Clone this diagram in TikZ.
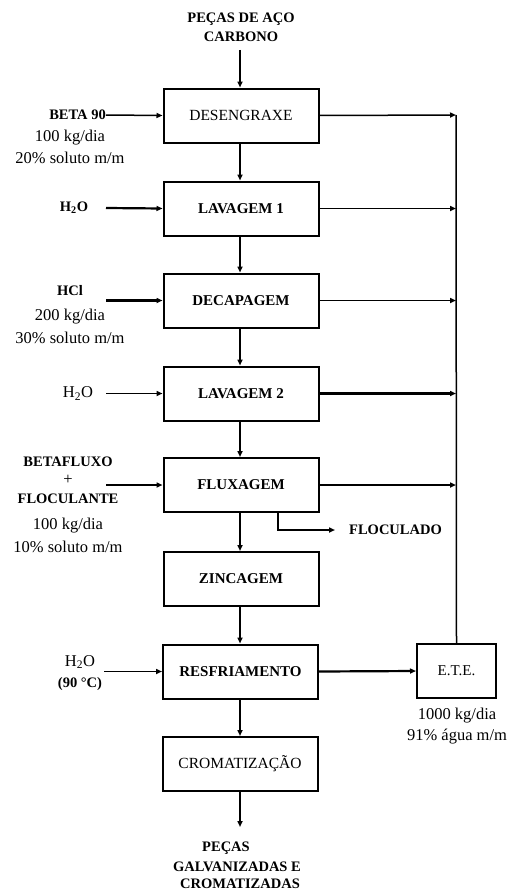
\documentclass[tikz,border=0pt]{standalone}
\usepackage{fontspec}
\setmainfont{Liberation Serif}
\usetikzlibrary{arrows.meta}
\begin{document}
\begin{tikzpicture}[x=1pt,y=-1pt,
  box/.style={draw,line width=2pt,fill=white,minimum width=155pt,minimum height=54pt,inner sep=0pt},
  txt/.style={font=\fontsize{16.5}{18}\selectfont,inner sep=0pt},
  btxt/.style={font=\fontsize{14.5}{16}\selectfont\bfseries,inner sep=0pt},
  arr/.style={line width=1.5pt,-{Triangle[length=6pt,width=5pt]}},
  thk/.style={line width=2.2pt,-{Triangle[length=6pt,width=5pt]}},
  ln/.style={line width=1.5pt}]
\useasboundingbox (0,0) rectangle (514,891);
% boxes
\node[box] (des) at (241,115.5) {\fontsize{15.5}{16}\selectfont DESENGRAXE};
\node[box] (lav1) at (241,208.5) {\fontsize{15}{16}\selectfont\bfseries LAVAGEM 1};
\node[box] (dec) at (241,300.5) {\fontsize{15}{16}\selectfont\bfseries DECAPAGEM};
\node[box] (lav2) at (241,393.5) {\fontsize{15}{16}\selectfont\bfseries LAVAGEM 2};
\node[box] (flux) at (241,485) {\fontsize{15}{16}\selectfont\bfseries FLUXAGEM};
\node[box] (zinc) at (241,579) {\fontsize{15}{16}\selectfont\bfseries ZINCAGEM};
\node[box] (resf) at (240.5,671.5) {\fontsize{15}{16}\selectfont\bfseries RESFRIAMENTO};
\node[box] (crom) at (240,764) {\fontsize{15.5}{16}\selectfont CROMATIZAÇÃO};
\node[box,minimum width=79pt] (ete) at (456.5,671) {\fontsize{15}{16}\selectfont E.T.E.};
% top input
\node[btxt,align=center] (top) at (241,27) {PEÇAS DE AÇO\\[3pt]CARBONO};
\coordinate (topc) at (240,50);
\draw[arr] (topc) -- (des.north -| topc);
% main column
\draw[arr] (des.south -| 240,0) -- (lav1.north -| 240,0);
\draw[arr] (lav1.south -| 240,0) -- (dec.north -| 240,0);
\draw[arr] (dec.south -| 240,0) -- (lav2.north -| 240,0);
\draw[arr] (lav2.south -| 240,0) -- (flux.north -| 240,0);
\draw[arr] (flux.south -| 240,0) -- (zinc.north -| 240,0);
\draw[arr] (zinc.south -| 240,0) -- (resf.north -| 240,0);
\draw[arr] (resf.south -| 240,0) -- (crom.north -| 240,0);
\coordinate (outc) at (240,827);
\draw[arr] (crom.south -| outc) -- (outc);
\node[btxt] (o1) at (226,848) {PEÇAS};
\node[btxt] (o2) at (237,867) {GALVANIZADAS E};
\node[btxt] (o3) at (240,884) {CROMATIZADAS};
% right collector
\coordinate (rtop) at (456,115);
\draw[ln] (rtop) -- (ete.north);
\draw[arr] (des.east) -- (rtop);
\draw[arr] (lav1.east) -- (lav1.east -| rtop);
\draw[arr] (dec.east) -- (dec.east -| rtop);
\draw[thk] (lav2.east) -- (lav2.east -| rtop);
\draw[arr] (flux.east) -- (flux.east -| rtop);
\draw[thk] (resf.east) -- (ete.west);
\node[txt] (e1) at (457,716) {1000 kg/dia};
\node[txt] (e2) at (457,737) {91\% água m/m};
% floculado
\coordinate (fa) at (278,530);
\coordinate (fb) at (335,530);
\node[btxt,anchor=west] (floc) at (349,530) {FLOCULADO};
\draw[arr] (flux.south -| fa) -- (fa) -- (fb);
% inputs
\node[btxt,anchor=east] (beta) at (106,115) {BETA 90};
\node[txt] (b1) at (70,138) {100 kg/dia};
\node[txt] (b2) at (70,158) {20\% soluto m/m};
\draw[arr] (beta.east) -- (des.west);
\node[btxt] (h1) at (74,208) {H\textsubscript{2}O};
\coordinate (h1c) at (106,208);
\draw[thk] (h1c) -- (lav1.west);
\node[btxt] (hcl) at (70,291) {HCl};
\node[txt] (c1) at (70,317) {200 kg/dia};
\node[txt] (c2) at (70,338) {30\% soluto m/m};
\coordinate (hclc) at (106,300.5);
\draw[thk] (hclc) -- (dec.west);
\node[txt] (h2) at (78,393.5) {H\textsubscript{2}O};
\coordinate (h2c) at (106,393.5);
\draw[arr] (h2c) -- (lav2.west);
\node[btxt] (f1) at (68,462) {BETAFLUXO};
\node[txt] (f2) at (68,480) {+};
\node[btxt] (f3) at (68,499) {FLOCULANTE};
\node[txt] (f4) at (68,526) {100 kg/dia};
\node[txt] (f5) at (68,547) {10\% soluto m/m};
\coordinate (fc) at (106,485);
\draw[thk] (fc) -- (flux.west);
\node[txt] (h3) at (80,662) {H\textsubscript{2}O};
\node[btxt] (h3b) at (80,684) {(90 °C)};
\coordinate (h3c) at (104,671.5);
\draw[arr] (h3c) -- (resf.west);
\end{tikzpicture}
\end{document}
